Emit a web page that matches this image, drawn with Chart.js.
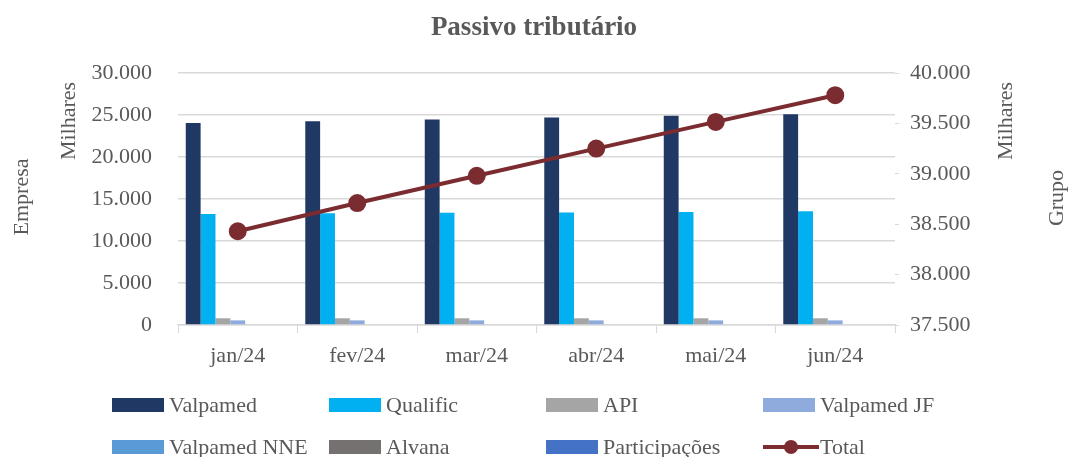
<!DOCTYPE html>
<html lang="pt">
<head>
<meta charset="UTF-8">
<title>Passivo tributário</title>
<script src="https://cdn.jsdelivr.net/npm/chart.js"></script>
<style>
    body { margin: 0; background: #fff; }
    #box { width: 1068px; height: 457px; }
</style>
</head>
<body>
<div id="box"><canvas id="chart"></canvas></div>
<script>
    // dados (milhares)
    const meses = ['jan/24', 'fev/24', 'mar/24', 'abr/24', 'mai/24', 'jun/24'];
    const valpamed = [24050, 24250, 24450, 24700, 24900, 25100];
    const qualific = [13200, 13300, 13350, 13400, 13450, 13550];
    const api = [800, 800, 800, 800, 800, 800];
    const valpamedJF = [550, 550, 550, 550, 550, 550];
    const valpamedNNE = [0, 0, 0, 0, 0, 0];
    const alvana = [0, 0, 0, 0, 0, 0];
    const participacoes = [0, 0, 0, 0, 0, 0];
    const total = [38430, 38710, 38980, 39250, 39515, 39780];

    const cinza = '#595959';
    const fonte = 'Liberation Serif';

    function fmt(v) {
        return String(Math.round(v)).replace(/\B(?=(\d{3})+(?!\d))/g, '.');
    }

    function barra(label, data, cor) {
        return { type: 'bar', label: label, data: data, backgroundColor: cor, yAxisID: 'y',
            barPercentage: 1, categoryPercentage: 0.87, order: 2 };
    }

    // titulos dos eixos (rodados) e legenda em 4 colunas
    const extras = {
        id: 'extras',
        afterDraw(chart) {
            const ctx = chart.ctx;
            const t = [['Empresa', 22, 197], ['Milhares', 69, 121], ['Milhares', 1006, 121], ['Grupo', 1057, 198]];
            ctx.save();
            ctx.fillStyle = cinza;
            ctx.font = '22px "' + fonte + '"';
            ctx.textAlign = 'center';
            ctx.textBaseline = 'middle';
            t.forEach(function (a) {
                ctx.save();
                ctx.translate(a[1], a[2]);
                ctx.rotate(-Math.PI / 2);
                ctx.fillText(a[0], 0, 0);
                ctx.restore();
            });

            ctx.textAlign = 'left';
            chart.data.datasets.forEach(function (ds, i) {
                const x = 112 + (i % 4) * 217;
                const y = 405 + Math.floor(i / 4) * 42;
                ctx.fillStyle = ds.backgroundColor;
                if (ds.type === 'line') {
                    ctx.strokeStyle = ds.borderColor;
                    ctx.lineWidth = 4;
                    ctx.beginPath();
                    ctx.moveTo(x, y);
                    ctx.lineTo(x + 56, y);
                    ctx.stroke();
                    ctx.beginPath();
                    ctx.arc(x + 28, y, 7, 0, Math.PI * 2);
                    ctx.fill();
                } else {
                    ctx.fillRect(x, y - 7, 52, 14);
                }
                ctx.fillStyle = cinza;
                ctx.fillText(ds.label, x + 57, y + 1);
            });
            ctx.restore();
        }
    };

    new Chart(document.getElementById('chart'), {
        data: {
            labels: meses,
            datasets: [
                barra('Valpamed', valpamed, '#1f3864'),
                barra('Qualific', qualific, '#00b0f0'),
                barra('API', api, '#a5a5a5'),
                barra('Valpamed JF', valpamedJF, '#8faadc'),
                barra('Valpamed NNE', valpamedNNE, '#5b9bd5'),
                barra('Alvana', alvana, '#767171'),
                barra('Participações', participacoes, '#4472c4'),
                { type: 'line', label: 'Total', data: total, yAxisID: 'y1', order: 1,
                    borderColor: '#7b2c30', backgroundColor: '#7b2c30', borderWidth: 4,
                    pointRadius: 7, pointHoverRadius: 7, tension: 0 }
            ]
        },
        options: {
            responsive: true,
            maintainAspectRatio: false,
            animation: false,
            layout: { padding: { bottom: 77 } },
            plugins: {
                legend: { display: false },
                tooltip: { enabled: false },
                title: {
                    display: true, text: 'Passivo tributário', color: cinza,
                    font: { family: fonte, size: 27, weight: 'bold' },
                    padding: { top: 12, bottom: 28.6 }
                }
            },
            scales: {
                x: {
                    offset: true,
                    grid: { display: true, drawOnChartArea: false, offset: true, color: '#d9d9d9', tickLength: 8 },
                    border: { color: '#d9d9d9', width: 1.5 },
                    ticks: { color: cinza, font: { family: fonte, size: 22 }, padding: 10 },
                    afterFit(s) { s.height = 55; }
                },
                y: {
                    position: 'left', min: 0, max: 30000,
                    ticks: { stepSize: 5000, color: cinza, font: { family: fonte, size: 22 }, padding: 26, callback: fmt },
                    grid: { color: '#d9d9d9', lineWidth: 1.5, drawTicks: false },
                    border: { display: false },
                    afterFit(s) { s.width = 178; }
                },
                y1: {
                    position: 'right', min: 37500, max: 40000,
                    ticks: { stepSize: 500, color: cinza, font: { family: fonte, size: 22 }, padding: 11, callback: fmt },
                    grid: { drawOnChartArea: false, color: '#d9d9d9', tickLength: 4 },
                    border: { display: false },
                    afterFit(s) { s.width = 173; }
                }
            }
        },
        plugins: [extras]
    });
</script>
</body>
</html>
